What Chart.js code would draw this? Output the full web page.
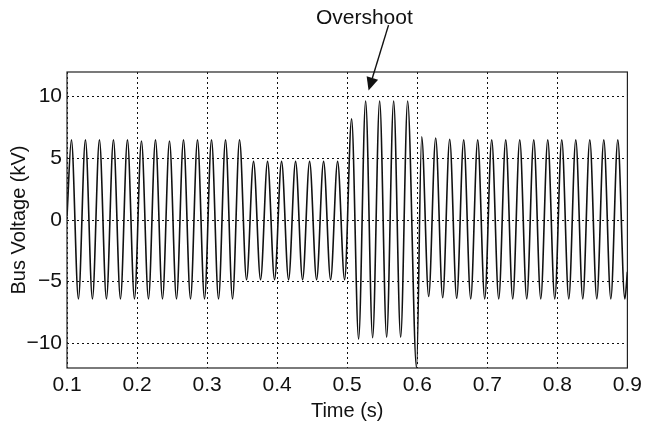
<!DOCTYPE html>
<html>
<head>
<meta charset="utf-8">
<title>Bus Voltage</title>
<script src="https://cdn.jsdelivr.net/npm/chart.js@4.4.1/dist/chart.umd.min.js"></script>
<style>
    html, body { margin: 0; padding: 0; background: #ffffff; }
    #chartCanvas { display: block; }
</style>
</head>
<body>
<canvas id="chartCanvas" width="647" height="431"></canvas>
<script>
// peaks and troughs of the waveform (s, kV)
var timeS = [
    0.1,
    0.1063, 0.1163, 0.1263, 0.1363, 0.1463, 0.1563, 0.1663, 0.1763, 0.1863, 0.1963,
    0.2063, 0.2163, 0.2263, 0.2363, 0.2463, 0.2563, 0.2663, 0.2763, 0.2863, 0.2963,
    0.3063, 0.3163, 0.3263, 0.3363, 0.3463, 0.3563, 0.3663, 0.3763, 0.3863, 0.3963,
    0.4063, 0.4163, 0.4263, 0.4363, 0.4463, 0.4563, 0.4663, 0.4763, 0.4863, 0.4963,
    0.5063, 0.5163, 0.5263, 0.5363, 0.5463, 0.5563, 0.5663, 0.5763, 0.5863, 0.599,
    0.6063, 0.6163, 0.6263, 0.6363, 0.6463, 0.6563, 0.6663, 0.6763, 0.6863, 0.6963,
    0.7063, 0.7163, 0.7263, 0.7363, 0.7463, 0.7563, 0.7663, 0.7763, 0.7863, 0.7963,
    0.8063, 0.8163, 0.8263, 0.8363, 0.8463, 0.8563, 0.8663, 0.8763, 0.8863, 0.8963,
    0.9
];
var busKV = [
    0.3,
    6.5, -6.4, 6.5, -6.4, 6.5, -6.4, 6.5, -6.4, 6.5, -6.4,
    6.4, -6.4, 6.5, -6.4, 6.4, -6.4, 6.5, -6.4, 6.5, -6.4,
    6.5, -6.4, 6.5, -6.4, 6.5, -4.85, 4.75, -4.85, 4.75, -4.85,
    4.75, -4.85, 4.75, -4.85, 4.75, -4.85, 4.75, -4.85, 4.75, -4.85,
    8.2, -9.65, 9.65, -9.55, 9.65, -9.5, 9.65, -9.5, 9.65, -12,
    6.75, -6.2, 6.65, -6.3, 6.55, -6.35, 6.5, -6.4, 6.5, -6.4,
    6.5, -6.4, 6.5, -6.4, 6.5, -6.4, 6.5, -6.4, 6.5, -6.4,
    6.5, -6.4, 6.5, -6.4, 6.5, -6.4, 6.5, -6.4, 6.5, -6.4,
    -4.2
];
var xTicks = [0.1, 0.2, 0.3, 0.4, 0.5, 0.6, 0.7, 0.8, 0.9];
var yTicks = [-10, -5, 0, 5, 10];

var fontFamily = '"Liberation Sans", Arial, Helvetica, sans-serif';

// "Overshoot" label and arrow, in data units
var note = { text: 'Overshoot', textX: 0.5245, textY: 16.4, fromX: 0.559, fromY: 15.8, toX: 0.5305, toY: 10.5 };

var framePlugin = {
    id: 'frame',
    afterDraw: function (chart) {
        var ctx = chart.ctx;
        var area = chart.chartArea;
        var xs = chart.scales.x;
        var ys = chart.scales.y;
        ctx.save();
        ctx.strokeStyle = '#222222';
        ctx.lineWidth = 1.2;
        ctx.strokeRect(area.left, area.top, area.right - area.left, area.bottom - area.top);

        // annotation
        var tx = xs.getPixelForValue(note.textX);
        var ty = ys.getPixelForValue(note.textY);
        ctx.fillStyle = '#111111';
        ctx.font = '21px ' + fontFamily;
        ctx.textAlign = 'center';
        ctx.textBaseline = 'middle';
        ctx.fillText(note.text, tx, ty);

        var x0 = xs.getPixelForValue(note.fromX);
        var y0 = ys.getPixelForValue(note.fromY);
        var x1 = xs.getPixelForValue(note.toX);
        var y1 = ys.getPixelForValue(note.toY);
        var ang = Math.atan2(y1 - y0, x1 - x0);
        var headLen = 13;
        var headHalf = 6;
        var bx = x1 - headLen * Math.cos(ang);
        var by = y1 - headLen * Math.sin(ang);
        ctx.strokeStyle = '#111111';
        ctx.lineWidth = 1.4;
        ctx.beginPath();
        ctx.moveTo(x0, y0);
        ctx.lineTo(bx, by);
        ctx.stroke();
        ctx.beginPath();
        ctx.moveTo(x1, y1);
        ctx.lineTo(bx + headHalf * Math.sin(ang), by - headHalf * Math.cos(ang));
        ctx.lineTo(bx - headHalf * Math.sin(ang), by + headHalf * Math.cos(ang));
        ctx.closePath();
        ctx.fill();
        ctx.restore();
    }
};

var points = timeS.map(function (t, i) {
    return { x: t, y: busKV[i] };
});

var ctx = document.getElementById('chartCanvas').getContext('2d');

var chart = new Chart(ctx, {
    type: 'line',
    data: {
        datasets: [{
            label: 'Bus Voltage',
            data: points,
            borderColor: '#111111',
            borderWidth: 1.6,
            pointRadius: 0,
            fill: false,
            cubicInterpolationMode: 'monotone'
        }]
    },
    options: {
        responsive: false,
        animation: false,
        layout: {
            padding: { top: 72, right: 17, bottom: 0, left: 0 }
        },
        plugins: {
            legend: { display: false },
            tooltip: { enabled: false }
        },
        scales: {
            x: {
                type: 'linear',
                min: 0.1,
                max: 0.9,
                afterBuildTicks: function (axis) {
                    axis.ticks = xTicks.map(function (v) { return { value: v }; });
                },
                afterFit: function (axis) {
                    axis.height = 63;
                },
                ticks: {
                    color: '#111111',
                    padding: 5,
                    maxRotation: 0,
                    font: { family: fontFamily, size: 21 },
                    callback: function (v) { return v.toFixed(1); }
                },
                grid: {
                    color: '#111111',
                    lineWidth: 1,
                    drawTicks: false
                },
                border: { display: false, dash: [2, 3] },
                title: {
                    display: true,
                    text: 'Time (s)',
                    color: '#111111',
                    padding: { top: 0, bottom: 8 },
                    font: { family: fontFamily, size: 20 }
                }
            },
            y: {
                min: -12,
                max: 12,
                afterBuildTicks: function (axis) {
                    axis.ticks = yTicks.map(function (v) { return { value: v }; });
                },
                afterFit: function (axis) {
                    axis.width = 67;
                },
                ticks: {
                    color: '#111111',
                    padding: 5,
                    font: { family: fontFamily, size: 21 },
                    callback: function (v) { return v < 0 ? '\u2212' + Math.abs(v) : String(v); }
                },
                grid: {
                    color: '#111111',
                    lineWidth: 1,
                    drawTicks: false
                },
                border: { display: false, dash: [2, 3] },
                title: {
                    display: true,
                    text: 'Bus Voltage (kV)',
                    color: '#111111',
                    padding: { top: 7, bottom: 0 },
                    font: { family: fontFamily, size: 20 }
                }
            }
        }
    },
    plugins: [framePlugin]
});
</script>
</body>
</html>
